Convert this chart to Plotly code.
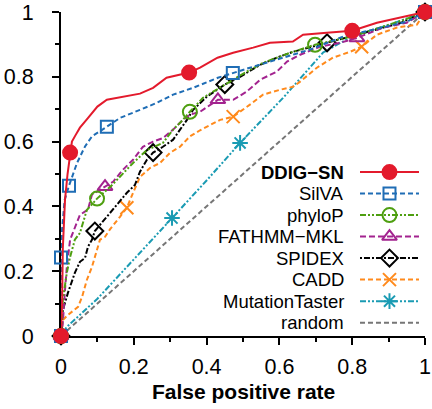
import plotly.graph_objects as go

# ---------------- data ----------------
ddig_x = [0, 0.003, 0.005, 0.011, 0.018, 0.025, 0.03, 0.04, 0.052, 0.075, 0.10, 0.126, 0.162, 0.217, 0.253, 0.29, 0.352, 0.382, 0.43, 0.473, 0.528, 0.574, 0.637, 0.665, 0.73, 0.8, 0.868, 0.93, 1.0]
ddig_y = [0, 0.10, 0.27, 0.42, 0.50, 0.566, 0.600, 0.620, 0.643, 0.674, 0.708, 0.729, 0.736, 0.748, 0.766, 0.797, 0.813, 0.828, 0.859, 0.874, 0.890, 0.905, 0.909, 0.930, 0.936, 0.942, 0.967, 0.982, 1.0]
ddig_mx = [0, 0.025, 0.352, 0.8, 1.0]
ddig_my = [0, 0.566, 0.813, 0.942, 1.0]

silva_x = [0, 0.0, 0.003, 0.01, 0.022, 0.044, 0.066, 0.085, 0.126, 0.162, 0.217, 0.264, 0.308, 0.363, 0.431, 0.472, 0.519, 0.61, 0.684, 0.775, 0.857, 0.95, 1.0]
silva_y = [0, 0.242, 0.33, 0.42, 0.464, 0.534, 0.585, 0.616, 0.646, 0.673, 0.698, 0.720, 0.745, 0.766, 0.797, 0.812, 0.828, 0.859, 0.884, 0.924, 0.946, 0.970, 1.0]
silva_mx = [0, 0.0, 0.022, 0.126, 0.472, 1.0]
silva_my = [0, 0.242, 0.464, 0.646, 0.812, 1.0]

phylop_x = [0, 0.005, 0.016, 0.025, 0.038, 0.052, 0.071, 0.099, 0.135, 0.17, 0.198, 0.236, 0.28, 0.308, 0.327, 0.354, 0.39, 0.418, 0.464, 0.51, 0.555, 0.602, 0.629, 0.698, 0.8, 0.857, 0.94, 1.0]
phylop_y = [0, 0.11, 0.195, 0.244, 0.297, 0.318, 0.389, 0.424, 0.46, 0.503, 0.534, 0.574, 0.596, 0.637, 0.658, 0.692, 0.735, 0.754, 0.785, 0.816, 0.843, 0.862, 0.874, 0.899, 0.925, 0.945, 0.975, 1.0]
phylop_mx = [0, 0.099, 0.354, 0.698, 1.0]
phylop_my = [0, 0.424, 0.692, 0.899, 1.0]

fathmm_x = [0, 0.005, 0.011, 0.016, 0.025, 0.052, 0.074, 0.085, 0.121, 0.143, 0.17, 0.198, 0.225, 0.253, 0.28, 0.308, 0.335, 0.354, 0.382, 0.431, 0.473, 0.51, 0.547, 0.593, 0.621, 0.657, 0.712, 0.767, 0.813, 0.885, 0.95, 1.0]
fathmm_y = [0, 0.04, 0.142, 0.213, 0.297, 0.374, 0.39, 0.436, 0.461, 0.476, 0.513, 0.544, 0.584, 0.600, 0.611, 0.637, 0.667, 0.683, 0.692, 0.729, 0.729, 0.754, 0.791, 0.816, 0.847, 0.868, 0.893, 0.905, 0.92, 0.952, 0.967, 1.0]
fathmm_mx = [0, 0.121, 0.431, 0.813, 1.0]
fathmm_my = [0, 0.461, 0.729, 0.92, 1.0]

spidex_x = [0, 0.005, 0.019, 0.03, 0.038, 0.052, 0.066, 0.074, 0.085, 0.093, 0.126, 0.154, 0.181, 0.203, 0.217, 0.236, 0.253, 0.28, 0.308, 0.327, 0.346, 0.363, 0.4, 0.45, 0.492, 0.547, 0.593, 0.637, 0.731, 0.85, 0.93, 1.0]
spidex_y = [0, 0.08, 0.133, 0.173, 0.195, 0.229, 0.241, 0.275, 0.297, 0.324, 0.368, 0.405, 0.442, 0.466, 0.507, 0.544, 0.566, 0.584, 0.606, 0.637, 0.667, 0.698, 0.738, 0.776, 0.800, 0.837, 0.859, 0.877, 0.905, 0.94, 0.965, 1.0]
spidex_mx = [0, 0.093, 0.253, 0.45, 0.731, 1.0]
spidex_my = [0, 0.324, 0.566, 0.776, 0.905, 1.0]

cadd_x = [0, 0.005, 0.019, 0.047, 0.058, 0.071, 0.085, 0.099, 0.107, 0.121, 0.135, 0.162, 0.181, 0.198, 0.217, 0.245, 0.272, 0.3, 0.327, 0.354, 0.382, 0.437, 0.473, 0.519, 0.555, 0.602, 0.637, 0.657, 0.703, 0.747, 0.794, 0.826, 0.868, 0.923, 0.978, 1.0]
cadd_y = [0, 0.049, 0.065, 0.09, 0.121, 0.173, 0.213, 0.266, 0.297, 0.306, 0.33, 0.368, 0.396, 0.442, 0.491, 0.519, 0.534, 0.566, 0.584, 0.616, 0.635, 0.667, 0.677, 0.714, 0.745, 0.760, 0.769, 0.785, 0.828, 0.859, 0.877, 0.893, 0.93, 0.952, 0.961, 1.0]
cadd_mx = [0, 0.181, 0.473, 0.826, 1.0]
cadd_my = [0, 0.396, 0.677, 0.893, 1.0]

mt_x = [0, 0.016, 0.1, 0.2, 0.305, 0.4, 0.492, 0.61, 0.72, 0.8, 0.9, 1.0]
mt_y = [0, 0.028, 0.115, 0.235, 0.364, 0.48, 0.596, 0.735, 0.875, 0.925, 0.96, 1.0]
mt_mx = [0, 0.305, 0.492, 1.0]
mt_my = [0, 0.364, 0.596, 1.0]

rand_x = [0, 1]
rand_y = [0, 1]

names = ["DDIG\u2212SN", "SilVA", "phyloP", "FATHMM\u2212MKL", "SPIDEX", "CADD", "MutationTaster", "random"]
x_title = "False positive rate"

# ---------------- styles ----------------
FONT = "Liberation Sans, Arial, Helvetica, sans-serif"
series = [
    # name, x, y, mx, my, color, dash, symbol, size
    (names[7], rand_x, rand_y, None, None, "#767676", "5px,3px", None, 0),
    (names[6], mt_x, mt_y, mt_mx, mt_my, "#1A9BB3", "6px,2px,2px,2px,2px,2px", "asterisk-open", 13),
    (names[5], cadd_x, cadd_y, cadd_mx, cadd_my, "#FF8A1C", "5px,3px", "x-thin-open", 13),
    (names[4], spidex_x, spidex_y, spidex_mx, spidex_my, "#000000", "2px,2px,6px,2px", "diamond-open", 13),
    (names[3], fathmm_x, fathmm_y, fathmm_mx, fathmm_my, "#A3238F", "6px,3px", "triangle-up-open", 13),
    (names[2], phylop_x, phylop_y, phylop_mx, phylop_my, "#4E9F10", "6px,2px,2px,2px,2px,2px", "circle-open", 14),
    (names[1], silva_x, silva_y, silva_mx, silva_my, "#1F6DB5", "5px,3px", "square-open", 12),
    (names[0], ddig_x, ddig_y, ddig_mx, ddig_my, "#E31A2C", "solid", "circle", 14),
]

fig = go.Figure()
for name, x, y, mx, my, col, dash, sym, sz in series:
    fig.add_trace(go.Scatter(x=x, y=y, mode="lines", name=name, showlegend=False,
                             line=dict(color=col, width=2, dash=dash), cliponaxis=False,
                             hoverinfo="skip"))
    if mx is not None:
        fig.add_trace(go.Scatter(x=mx, y=my, mode="markers", showlegend=False, cliponaxis=False,
                                 marker=dict(symbol=sym, size=sz, color=col,
                                             line=dict(color=col, width=2)),
                                 hoverinfo="skip"))

# ---------------- manual legend (text left, sample right) ----------------
legend_order = [s for s in series[::-1]]
row_top = 0.506
row_step = 0.0664
for i, (name, x, y, mx, my, col, dash, sym, sz) in enumerate(legend_order):
    ry = row_top - i * row_step
    fig.add_trace(go.Scatter(x=[0, 1], y=[ry, ry], mode="lines", xaxis="x2", yaxis="y2",
                             showlegend=False, line=dict(color=col, width=2, dash=dash),
                             hoverinfo="skip"))
    if sym is not None:
        fig.add_trace(go.Scatter(x=[0.5], y=[ry], mode="markers", xaxis="x2", yaxis="y2",
                                 showlegend=False, cliponaxis=False,
                                 marker=dict(symbol=sym, size=sz, color=col,
                                             line=dict(color=col, width=2)),
                                 hoverinfo="skip"))
    txt = "<b>%s</b>" % name if i == 0 else name
    fig.add_annotation(x=0.783, y=ry, xref="paper", yref="paper", text=txt,
                       showarrow=False, xanchor="right", yanchor="middle",
                       font=dict(family=FONT, size=18.5, color="black"))

# x-axis title
fig.add_annotation(x=0.5, y=-0.17, xref="paper", yref="paper", text="<b>%s</b>" % x_title,
                   showarrow=False, xanchor="center", yanchor="middle",
                   font=dict(family=FONT, size=21, color="black"))

axis_common = dict(range=[0, 1], showgrid=False, zeroline=False, showline=True,
                   linecolor="black", linewidth=2, ticks="outside", ticklen=7,
                   tickwidth=1.5, tickcolor="black", dtick=0.2, tick0=0,
                   tickfont=dict(family=FONT, size=21.5, color="black"),
                   minor=dict(ticks="outside", ticklen=4, tickwidth=1.5, tickcolor="black", dtick=0.1, tick0=0),
                   layer="below traces", fixedrange=True, automargin=False)

fig.update_layout(
    width=432, height=409,
    margin=dict(l=61, r=7, t=12, b=73, autoexpand=False),
    paper_bgcolor="white", plot_bgcolor="rgba(0,0,0,0)",
    font=dict(family=FONT, color="black"),
    xaxis=dict(**axis_common, ticklabelstandoff=3),
    yaxis=dict(**axis_common, ticklabelstandoff=14),
    xaxis2=dict(domain=[0.8214, 0.9835], range=[0, 1], visible=False, anchor="y2", fixedrange=True),
    yaxis2=dict(domain=[0, 1], range=[0, 1], visible=False, anchor="x2", overlaying="y", fixedrange=True),
)

fig.write_html("out.html")
